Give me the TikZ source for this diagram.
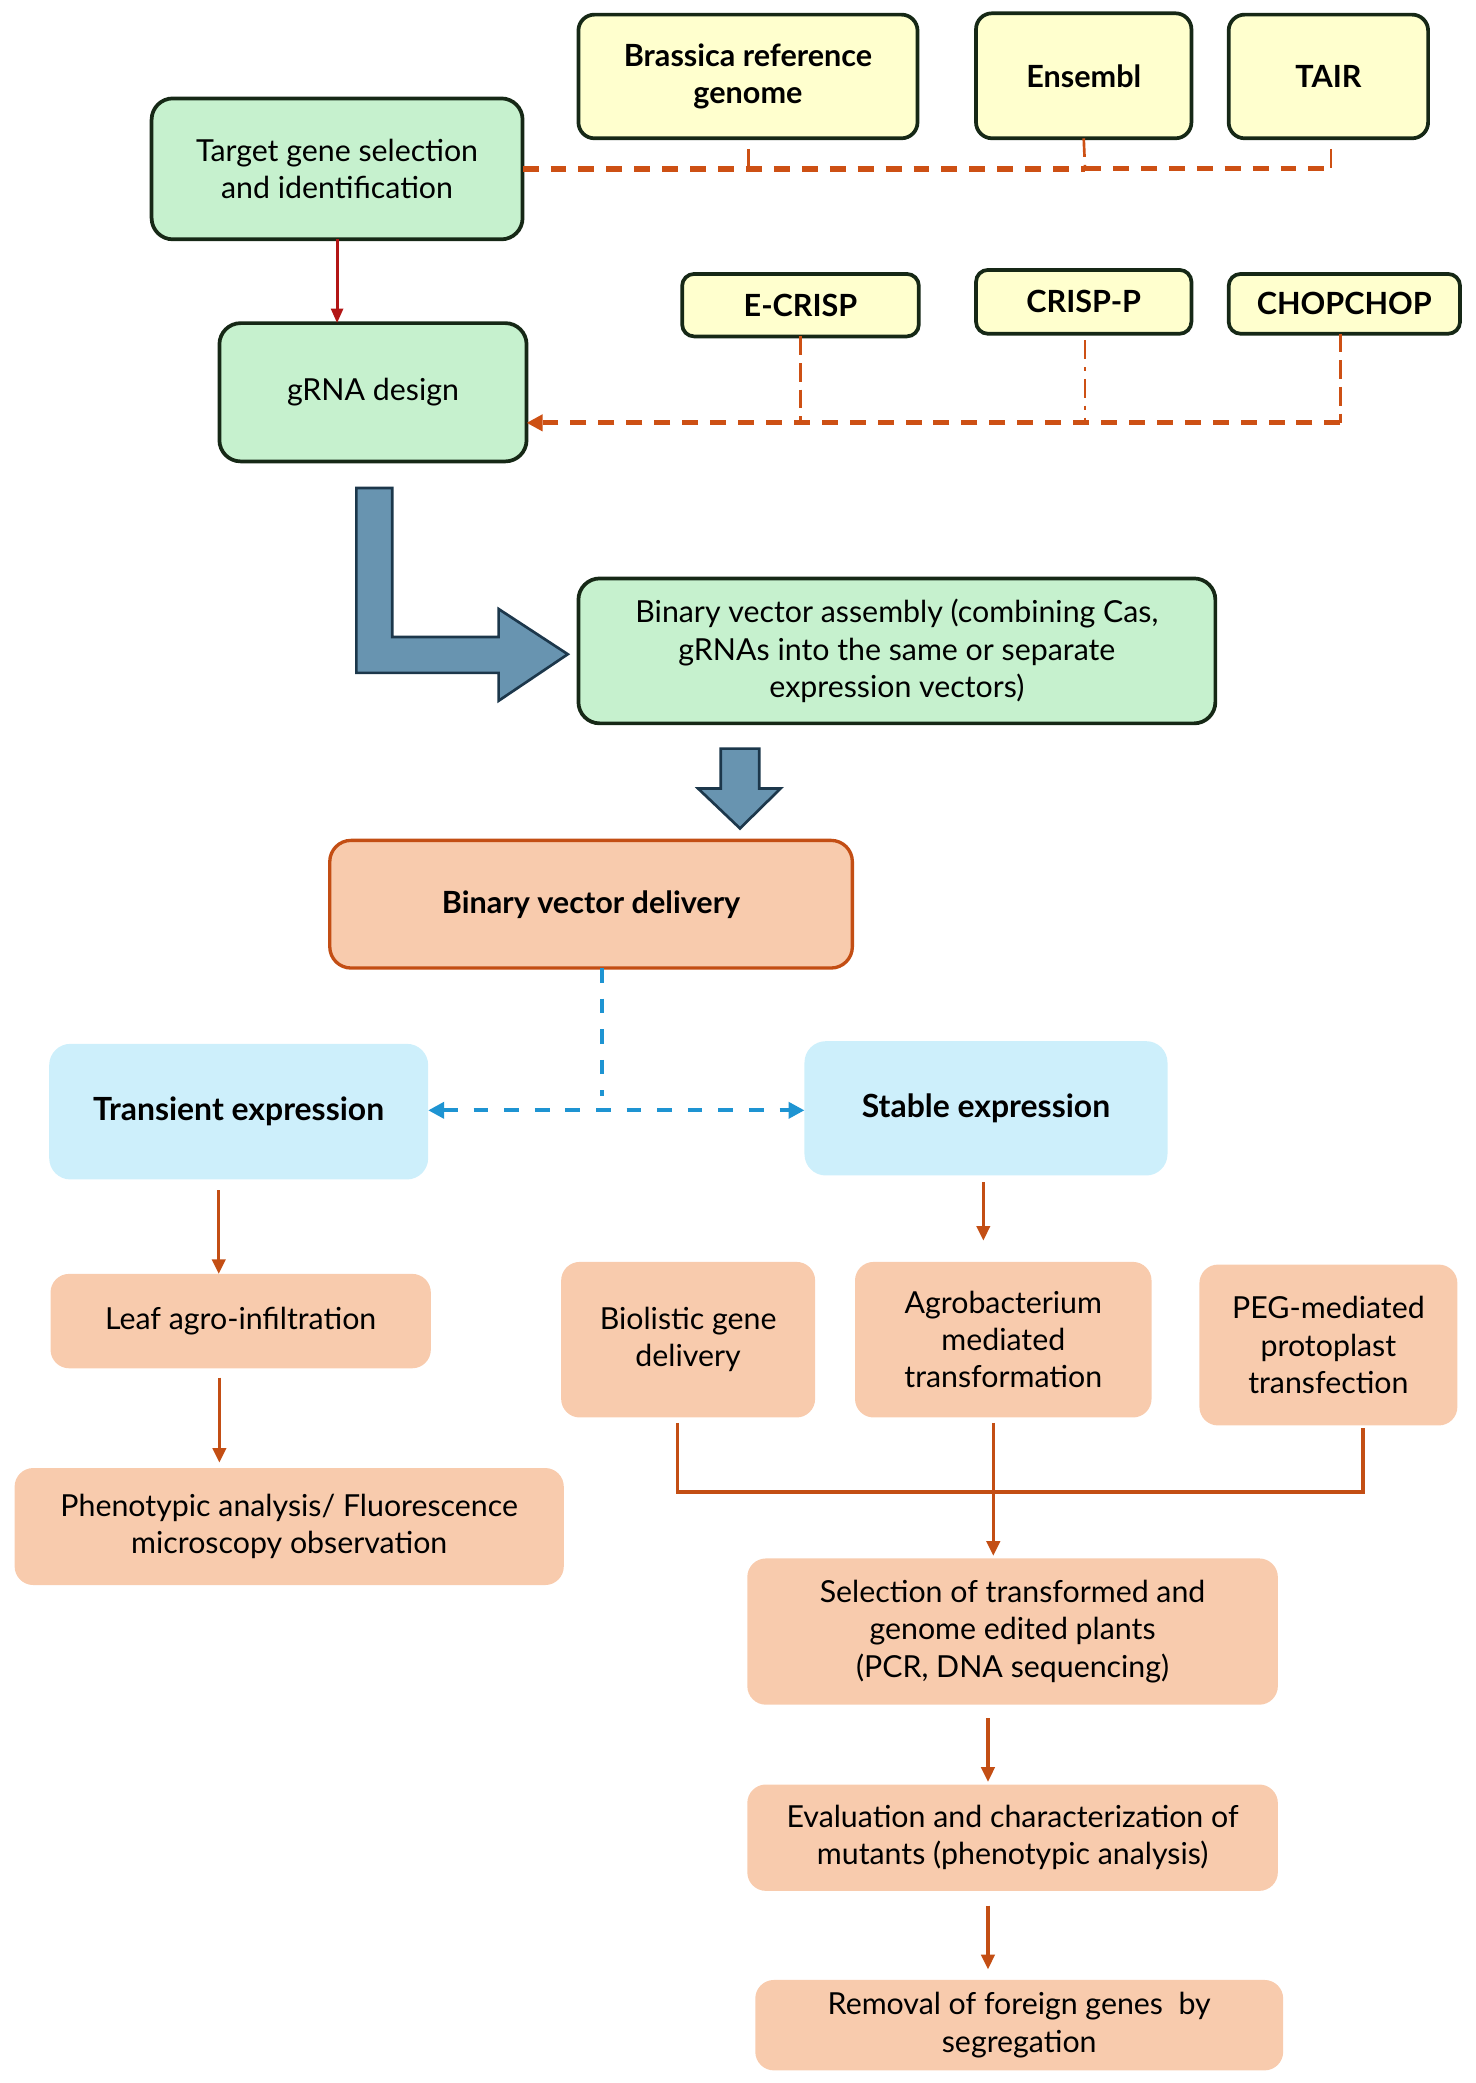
\documentclass[tikz,border=0pt]{standalone}
\usepackage{fontspec}
\setmainfont{Lato}
\usetikzlibrary{arrows.meta,calc}
\definecolor{grnfill}{RGB}{198,241,206}
\definecolor{yelfill}{RGB}{255,255,206}
\definecolor{orfill}{RGB}{248,203,173}
\definecolor{bluefill}{RGB}{205,239,251}
\definecolor{bdr}{RGB}{22,40,22}
\definecolor{orline}{RGB}{195,78,20}
\definecolor{redline}{RGB}{178,22,22}
\definecolor{dashor}{RGB}{205,80,20}
\definecolor{bluedash}{RGB}{30,148,210}
\definecolor{bigfill}{RGB}{104,148,176}
\definecolor{bigdraw}{RGB}{28,55,75}
\tikzset{
  gbox/.style={draw=bdr, line width=2.8pt, fill=grnfill, rounded corners=16pt, align=center, inner sep=0pt, outer sep=0pt, font=\fontsize{22.8}{28}\selectfont},
  ybox/.style={draw=bdr, line width=2.8pt, fill=yelfill, rounded corners=12pt, align=center, inner sep=0pt, outer sep=0pt, font=\fontsize{23}{28}\selectfont\bfseries},
  obox/.style={fill=orfill, rounded corners=14pt, align=center, inner sep=0pt, outer sep=0pt, font=\fontsize{22.8}{28}\selectfont},
  dbox/.style={draw=orline, line width=2.5pt, fill=orfill, rounded corners=16pt, align=center, inner sep=0pt, outer sep=0pt, font=\fontsize{23}{28}\selectfont\bfseries},
  bbox/.style={fill=bluefill, rounded corners=16pt, align=center, inner sep=0pt, outer sep=0pt, font=\fontsize{24}{28}\selectfont\bfseries},
  arr/.style={draw=orline, line width=2.4pt, -{Triangle[length=11pt,width=10pt]}},
  seg/.style={draw=orline, line width=2.4pt},
  redarr/.style={draw=redline, line width=2.2pt, -{Triangle[length=11pt,width=9pt]}},
  thickdash/.style={draw=dashor, line width=4.5pt, dash pattern=on 12pt off 9pt},
  middash/.style={draw=dashor, line width=3.6pt, dash pattern=on 12pt off 9pt},
  stubdash/.style={draw=dashor, line width=2pt, dash pattern=on 14pt off 6pt},
  stubdot/.style={draw=dashor, line width=2pt, dash pattern=on 14pt off 6pt on 3pt off 6pt},
  bdash/.style={draw=bluedash, line width=3pt, dash pattern=on 11pt off 12pt},
  bigarrow/.style={fill=bigfill, draw=bigdraw, line width=2pt, line join=miter},
}
\begin{document}
\begin{tikzpicture}[x=1pt,y=-1pt]
\useasboundingbox (0,0) rectangle (1110,1566.5);

% top database boxes
\node[ybox, minimum width=255pt, minimum height=93pt] (brassica) at (562.5,57.5) {Brassica reference\\genome};
\node[ybox, minimum width=162pt, minimum height=94pt] (ensembl) at (815,57) {Ensembl};
\node[ybox, minimum width=150pt, minimum height=93pt] (tair) at (999,57.5) {TAIR};

\node[gbox, minimum width=279pt, minimum height=106pt] (target) at (253.5,127) {Target gene selection\\and identification};
\node[gbox, minimum width=231pt, minimum height=104pt] (grna) at (280.5,295) {gRNA design};

\node[ybox, minimum width=178pt, minimum height=47pt, rounded corners=9pt] (ecrisp) at (602,229.5) {E-CRISP};
\node[ybox, minimum width=162pt, minimum height=48pt, rounded corners=9pt] (crispp) at (815,227) {CRISP-P};
\node[ybox, minimum width=174pt, minimum height=45pt, rounded corners=9pt] (chop) at (1011,228.5) {CHOPCHOP};

\node[gbox, minimum width=479pt, minimum height=109pt] (assembly) at (674.5,489.5) {Binary vector assembly (combining Cas,\\gRNAs into the same or separate\\expression vectors)};

\node[dbox, minimum width=393pt, minimum height=96pt] (delivery) at (444.5,680) {Binary vector delivery};

\node[bbox, minimum width=285pt, minimum height=102pt] (transient) at (179.5,836) {Transient expression};
\node[bbox, minimum width=273pt, minimum height=101pt] (stable) at (741.5,833.5) {Stable expression};

\node[obox, minimum width=286pt, minimum height=71pt] (leaf) at (181,993.5) {Leaf agro-infiltration};
\node[obox, minimum width=413pt, minimum height=88pt] (pheno) at (217.5,1148) {Phenotypic analysis/ Fluorescence\\microscopy observation};

\node[obox, minimum width=191pt, minimum height=117pt] (biolistic) at (517.5,1007.5) {Biolistic gene\\delivery};
\node[obox, minimum width=223pt, minimum height=117pt] (agro) at (754.5,1007.5) {Agrobacterium\\mediated\\transformation};
\node[obox, minimum width=194pt, minimum height=121pt] (peg) at (999,1011.5) {PEG-mediated\\protoplast\\transfection};

\node[obox, minimum width=399pt, minimum height=110pt] (selection) at (761.5,1227) {Selection of transformed and\\genome edited plants\\(PCR, DNA sequencing)};
\node[obox, minimum width=399pt, minimum height=80pt] (evaluation) at (761.5,1382) {Evaluation and characterization of\\mutants (phenotypic analysis)};
\node[obox, minimum width=397pt, minimum height=68pt] (removal) at (766.5,1523) {Removal of foreign genes\ \ by\\segregation};

% target -> gRNA
\draw[redarr] (target.south) -- (target.south |- grna.north);

% top dashed connectors
\coordinate (jb) at ($(brassica.south)+(0.5,23)$);
\coordinate (je) at ($(ensembl.south)+(1,23)$);
\coordinate (jt) at ($(tair.south)+(2,23)$);
\draw[thickdash] (target.east |- jb) -- (je);
\draw[middash] (je) -- (jt);
\draw[stubdash] ($(brassica.south)+(0.5,8)$) -- (jb);
\draw[stubdash] (ensembl.south) -- (je);
\draw[stubdash] ($(tair.south)+(2,8)$) -- (jt);

% second row dashed connectors
\coordinate (kc) at ($(chop.south)+(-3,67)$);
\coordinate (ke) at (ecrisp.south |- kc);
\coordinate (kp) at ($(crispp.south |- kc)+(1,0)$);
\draw[middash, -{Triangle[length=12pt,width=12pt]}] (kc) -- ([yshift=-23pt]grna.east);
\draw[stubdash] (ecrisp.south) -- (ke);
\draw[stubdot] ($(crispp.south)+(1,5)$) -- (kp);
\draw[stubdash] ($(chop.south)+(-3,0)$) -- (kc);

% big bent arrow
\draw[bigarrow] (268,367) -- (295,367) -- (295,479) -- (375,479) -- (375,458) -- (427,492) -- (375,527) -- (375,506) -- (268,506) -- cycle;
% big down arrow
\draw[bigarrow] (542,563) -- (571,563) -- (571,593) -- (587,593) -- (556.5,623) -- (525,593) -- (542,593) -- cycle;

% blue dashed split
\coordinate (bv) at ($(delivery.south)+(8.5,96)$);
\draw[bdash] ([xshift=8.5pt]delivery.south) -- (bv);
\draw[bdash, {Triangle[length=12pt,width=12pt]}-{Triangle[length=12pt,width=12pt]}] (transient.east |- 0,835) -- (stable.west |- 0,835);

% transient branch
\draw[arr] ([xshift=-15pt,yshift=-8pt]transient.south) -- ([xshift=-15pt]transient.south |- leaf.north);
\draw[arr] ([xshift=-16pt,yshift=-7pt]leaf.south) -- ([xshift=-16pt,yshift=4pt]leaf.south |- pheno.north);

% stable branch
\draw[arr] ([xshift=-2pt,yshift=-5pt]stable.south) -- ([xshift=-2pt,yshift=16pt]stable.south |- agro.north);

\coordinate (mb) at ($(biolistic.south)+(-8,56)$);
\coordinate (mp) at ($(peg.south)+(26,50)$);
\draw[seg] ([xshift=-8pt,yshift=-4pt]biolistic.south) -- (mb) -- (mp) -- ([xshift=26pt,yshift=-2pt]peg.south);
\draw[arr] ([xshift=-7.5pt,yshift=-4pt]agro.south) -- ([xshift=-7.5pt,yshift=2pt]agro.south |- selection.north);

\draw[arr] ([xshift=-18.5pt,yshift=-10pt]selection.south) -- ([xshift=-18.5pt,yshift=2pt]selection.south |- evaluation.north);
\draw[arr] ([xshift=-18.5pt,yshift=-11pt]evaluation.south) -- ([xshift=-18.5pt,yshift=8pt]evaluation.south |- removal.north);
\end{tikzpicture}
\end{document}
